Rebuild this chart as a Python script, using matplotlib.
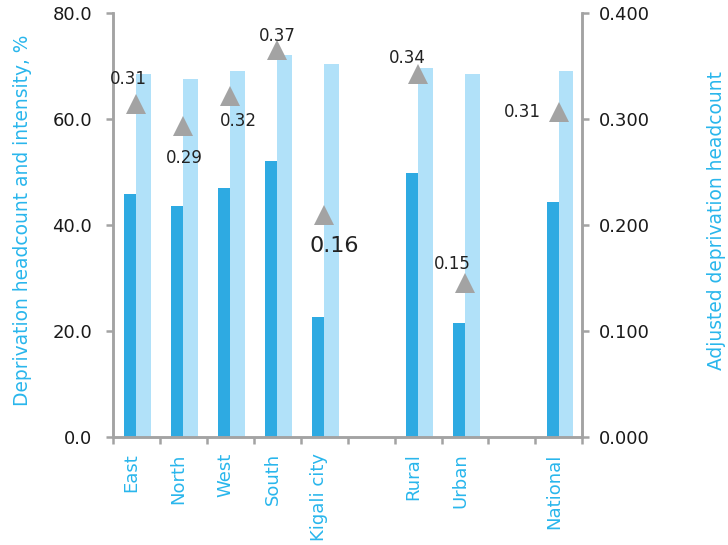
import numpy as np
import matplotlib
matplotlib.use("Agg")
import matplotlib.pyplot as plt

# categories (None = empty slot in the category axis)
categories = ["East", "North", "West", "South", "Kigali city", None, "Rural", "Urban", None, "National"]
headcount = [45.9, 43.6, 46.9, 52.0, 22.6, None, 49.8, 21.5, None, 44.3]
intensity = [68.5, 67.5, 69.1, 72.0, 70.3, None, 69.6, 68.5, None, 69.1]
adjusted = [0.314, 0.293, 0.322, 0.365, 0.209, None, 0.342, 0.145, None, 0.307]
adjusted_labels = ["0.31", "0.29", "0.32", "0.37", "0.16", None, "0.34", "0.15", None, "0.31"]

DARK = "#2eaae2"
LIGHT = "#b1e1f9"
LABEL = "#29b6ec"
GREY = "#a3a3a3"

plt.rcParams['font.family'] = ['DejaVu Sans']

fig = plt.figure(figsize=(7.28, 5.45), dpi=100)
ax = fig.add_axes([0.155, 0.199, 0.645, 0.777])
ax2 = ax.twinx()

idx = [i for i, c in enumerate(categories) if c is not None]
x = np.array(idx, dtype=float)
hc = [headcount[i] for i in idx]
it = [intensity[i] for i in idx]
ad = [adjusted[i] for i in idx]
lb = [adjusted_labels[i] for i in idx]

ax.bar(x - 0.13, hc, width=0.26, color=DARK, zorder=2)
ax.bar(x + 0.155, it, width=0.31, color=LIGHT, zorder=2)

ax.set_xlim(-0.5, 9.5)
ax.set_ylim(0, 80)
ax2.set_ylim(0, 0.4)

ax.set_yticks([0, 20, 40, 60, 80])
ax.set_yticklabels(["%.1f" % v for v in [0, 20, 40, 60, 80]])
ax2.set_yticks([0, 0.1, 0.2, 0.3, 0.4])
ax2.set_yticklabels(["%.3f" % v for v in [0, 0.1, 0.2, 0.3, 0.4]])

# tick marks between categories, labels under categories
ax.set_xticks(np.arange(-0.5, 10, 1.0))
ax.set_xticklabels([])
ax.set_xticks(x - 0.1, minor=True)
ax.set_xticklabels([categories[i] for i in idx], minor=True, rotation=90,
                   color=LABEL, fontsize=13, va="top", ha="center")
ax.tick_params(axis="x", which="minor", length=0, pad=12)
ax.tick_params(axis="x", which="major", length=5, width=1.8, color=GREY)

for a in (ax, ax2):
    for s in a.spines.values():
        s.set_color(GREY)
        s.set_linewidth(1.8)
    a.spines["top"].set_visible(False)
ax.tick_params(axis="y", length=5, width=1.8, color=GREY, labelsize=13,
               labelcolor="#1a1a1a", pad=10)
ax2.tick_params(axis="y", length=5, width=1.8, color=GREY, labelsize=13,
                labelcolor="#1a1a1a", pad=7)

ax.set_ylabel("Deprivation headcount and intensity, %", color=LABEL, fontsize=13.4)
ax2.set_ylabel("Adjusted deprivation headcount", color=LABEL, fontsize=13.4)
ax.yaxis.set_label_coords(-0.172, 0.51)
ax2.yaxis.set_label_coords(1.265, 0.51)

ax2.plot(x, ad, linestyle="none", marker="^", markersize=14, color=GREY,
         markeredgewidth=0, zorder=3)

# label offsets (points) relative to each marker
offsets = [(-6, 18), (1, -23), (6, -18), (0, 10), (7, -22), (-8, 12), (-9, 14), (-26, 0)]
for xi, yi, t, (dx, dy) in zip(x, ad, lb, offsets):
    fs = 16 if t == "0.16" else 12
    ax2.annotate(t, (xi, yi), xytext=(dx, dy), textcoords="offset points",
                 ha="center", va="center", fontsize=fs, color="#222222")

fig.savefig("out.png", dpi=100)
